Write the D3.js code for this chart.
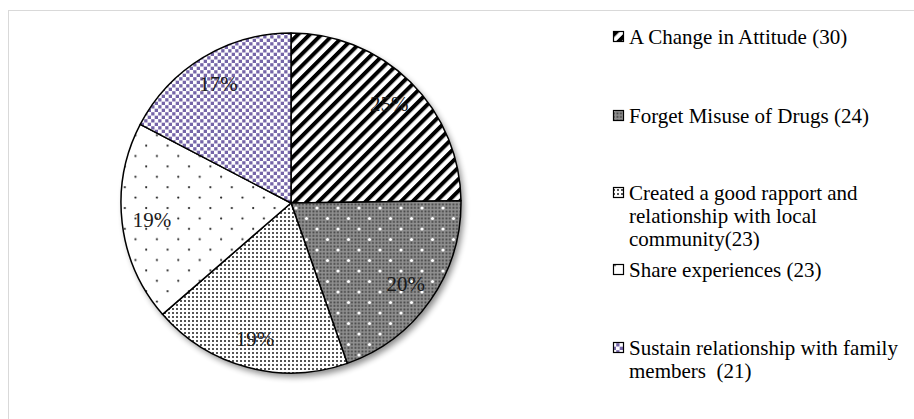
<!DOCTYPE html>
<html>
<head>
<meta charset="utf-8">
<script src="https://cdn.jsdelivr.net/npm/d3@7"></script>
<style>
  body { margin: 0; background: #fff; }
  svg { display: block; }
  text { white-space: pre; }
</style>
</head>
<body>
<div id="chart"></div>
<script>
// data
const categories = [
  "A Change in Attitude (30)",
  "Forget Misuse of Drugs (24)",
  "Created a good rapport and relationship with local community(23)",
  "Share experiences (23)",
  "Sustain relationship with family members  (21)"
];
const values = [30, 24, 23, 23, 21];
// legend text as wrapped in the original
const legendLines = [
  ["A Change in Attitude (30)"],
  ["Forget Misuse of Drugs (24)"],
  ["Created a good rapport and", "relationship with local", "community(23)"],
  ["Share experiences (23)"],
  ["Sustain relationship with family", "members  (21)"]
];
const patternIds = ["pStripe", "pDarkDots", "pFineDots", "pSparseDots", "pPurple"];

const width = 914, height = 419;
const cx = 291, cy = 203, radius = 170;

const svg = d3.select("#chart")
  .append("svg")
  .attr("width", width)
  .attr("height", height);

const defs = svg.append("defs");

// ----------------------
// PATTERNS
// ----------------------
const stripe = defs.append("pattern")
  .attr("id", "pStripe")
  .attr("patternUnits", "userSpaceOnUse")
  .attr("width", 8.3).attr("height", 8.3)
  .attr("patternTransform", "rotate(45)");
stripe.append("rect").attr("width", 8.3).attr("height", 8.3).attr("fill", "#fff");
stripe.append("rect").attr("width", 4).attr("height", 8.3).attr("fill", "#000");

const checker = defs.append("pattern")
  .attr("id", "pChecker")
  .attr("patternUnits", "userSpaceOnUse")
  .attr("width", 3.5).attr("height", 3.5);
checker.append("rect").attr("width", 3.5).attr("height", 3.5).attr("fill", "#909090");
checker.append("rect").attr("x", 0.5).attr("y", 0.5).attr("width", 1.8).attr("height", 1.8).attr("fill", "#404040");

const darkDots = defs.append("pattern")
  .attr("id", "pDarkDots")
  .attr("patternUnits", "userSpaceOnUse")
  .attr("width", 21).attr("height", 21);
darkDots.append("rect").attr("width", 21).attr("height", 21).attr("fill", "url(#pChecker)");
[[5, 5], [15.5, 15.5]].forEach(p => {
  darkDots.append("circle").attr("cx", p[0]).attr("cy", p[1]).attr("r", 1.6).attr("fill", "#fff");
});

const fineDots = defs.append("pattern")
  .attr("id", "pFineDots")
  .attr("patternUnits", "userSpaceOnUse")
  .attr("width", 4).attr("height", 4);
fineDots.append("rect").attr("width", 4).attr("height", 4).attr("fill", "#fff");
fineDots.append("rect").attr("x", 1).attr("y", 1).attr("width", 2).attr("height", 2).attr("fill", "#555");

const sparseDots = defs.append("pattern")
  .attr("id", "pSparseDots")
  .attr("patternUnits", "userSpaceOnUse")
  .attr("width", 21.4).attr("height", 20.8);
sparseDots.append("rect").attr("width", 21.4).attr("height", 20.8).attr("fill", "#fff");
[[5, 5], [15.7, 15.4]].forEach(p => {
  sparseDots.append("circle").attr("cx", p[0]).attr("cy", p[1]).attr("r", 1.1).attr("fill", "#222");
});

const purple = defs.append("pattern")
  .attr("id", "pPurple")
  .attr("patternUnits", "userSpaceOnUse")
  .attr("width", 7).attr("height", 7);
purple.append("rect").attr("width", 7).attr("height", 7).attr("fill", "#fff");
purple.append("rect").attr("x", 0.2).attr("y", 0.2).attr("width", 3.3).attr("height", 3.3).attr("fill", "#7565a8");
purple.append("rect").attr("x", 3.7).attr("y", 3.7).attr("width", 3.3).attr("height", 3.3).attr("fill", "#7565a8");

const shadow = defs.append("filter")
  .attr("id", "shadow")
  .attr("x", "-20%").attr("y", "-20%")
  .attr("width", "140%").attr("height", "140%");
shadow.append("feGaussianBlur").attr("stdDeviation", 3);

// frame lines at top and left
svg.append("line")
  .attr("x1", 8).attr("x2", width).attr("y1", 10.5).attr("y2", 10.5)
  .attr("stroke", "#d9d9d9").attr("stroke-width", 1);
svg.append("line")
  .attr("x1", 8.5).attr("x2", 8.5).attr("y1", 10).attr("y2", height)
  .attr("stroke", "#d9d9d9").attr("stroke-width", 1);

// ----------------------
// PIE
// ----------------------
const g = svg.append("g")
  .attr("transform", `translate(${cx},${cy})`);

g.append("circle")
  .attr("cx", 3).attr("cy", 4)
  .attr("r", radius)
  .attr("fill", "#000")
  .attr("opacity", 0.45)
  .attr("filter", "url(#shadow)");

const pie = d3.pie().sort(null).value(d => d);
const arcs = pie(values);
const total = d3.sum(values);

const arc = d3.arc().innerRadius(0).outerRadius(radius);
const labelArc = d3.arc().innerRadius(140).outerRadius(140);

g.selectAll("path.slice")
  .data(arcs)
  .enter()
  .append("path")
  .attr("class", "slice")
  .attr("d", arc)
  .attr("fill", (d, i) => `url(#${patternIds[i]})`)
  .attr("stroke", "#000")
  .attr("stroke-width", 1.5)
  .attr("stroke-linejoin", "round");

g.selectAll("text.pct")
  .data(arcs)
  .enter()
  .append("text")
  .attr("class", "pct")
  .attr("transform", d => `translate(${labelArc.centroid(d)})`)
  .attr("text-anchor", "middle")
  .attr("dy", "0.35em")
  .attr("font-family", "'Liberation Serif', 'Times New Roman', serif")
  .attr("font-size", 21)
  .attr("fill", "#1a1a1a")
  .text(d => Math.round(d.data / total * 100) + "%");

// ----------------------
// LEGEND
// ----------------------
const legendBaselines = [44, 123, 200, 277, 355];
const lineHeight = 23;

const legend = svg.append("g");
const items = legend.selectAll("g")
  .data(categories)
  .enter()
  .append("g");

items.append("rect")
  .attr("x", 613.5)
  .attr("y", (d, i) => legendBaselines[i] - 12.5)
  .attr("width", 10)
  .attr("height", 10)
  .attr("fill", (d, i) => `url(#${patternIds[i]})`)
  .attr("stroke", "#000")
  .attr("stroke-width", 1.2);

items.append("text")
  .attr("x", 629)
  .attr("y", (d, i) => legendBaselines[i])
  .attr("font-family", "'Liberation Serif', 'Times New Roman', serif")
  .attr("font-size", 21)
  .attr("fill", "#000")
  .each(function(d, i) {
    d3.select(this).selectAll("tspan")
      .data(legendLines[i])
      .enter()
      .append("tspan")
      .attr("x", 629)
      .attr("dy", (t, j) => j === 0 ? 0 : lineHeight)
      .text(t => t);
  });
</script>
</body>
</html>
